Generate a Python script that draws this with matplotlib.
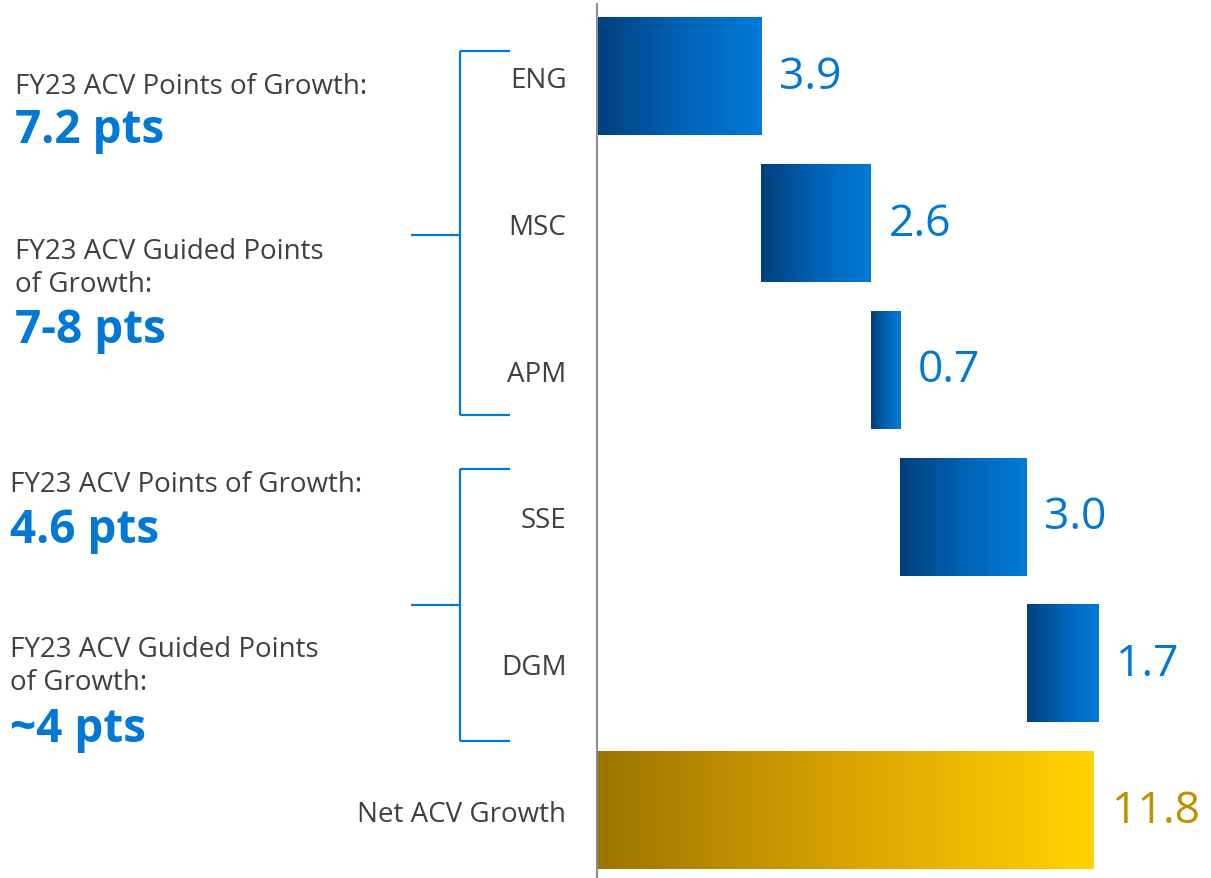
import numpy as np
import matplotlib
matplotlib.use('Agg')
import matplotlib.pyplot as plt
from matplotlib.colors import LinearSegmentedColormap
from matplotlib.lines import Line2D

plt.rcParams['font.family'] = ['Open Sans', 'DejaVu Sans']

# data
categories = ['ENG', 'MSC', 'APM', 'SSE', 'DGM', 'Net ACV Growth']
values = [3.9, 2.6, 0.7, 3.0, 1.7, 11.8]
is_total = [False, False, False, False, False, True]
value_labels = ['3.9', '2.6', '0.7', '3.0', '1.7', '11.8']

side_notes = [
    # (x px, y px, text, style)
    (15, 87, 'FY23 ACV Points of Growth:', 'small'),
    (15, 131, '7.2 pts', 'big'),
    (15, 252, 'FY23 ACV Guided Points', 'small'),
    (15, 285, 'of Growth:', 'small'),
    (15, 331, '7-8 pts', 'big'),
    (10, 485, 'FY23 ACV Points of Growth:', 'small'),
    (10, 530, '4.6 pts', 'big'),
    (10, 650, 'FY23 ACV Guided Points', 'small'),
    (10, 683, 'of Growth:', 'small'),
    (10, 730, '~4 pts', 'big'),
]

BLUE = '#0078D4'
GOLD = '#BF9000'
GRAY_TXT = '#404040'

W, H = 1211, 879
fig = plt.figure(figsize=(W / 100, H / 100), dpi=100)
fig.patch.set_facecolor('white')

def fx(x):
    return x / W

def fy(y):
    return 1 - y / H

# bar axes: left edge at the vertical gray line
ax = fig.add_axes([fx(597), 0, 1 - fx(597), 1 - 5 / H])
ax.patch.set_alpha(0)

blue_cmap = LinearSegmentedColormap.from_list('b', ['#003F7C', '#0062B4', '#007AD8'])
gold_cmap = LinearSegmentedColormap.from_list('g', ['#9C7400', '#D9A400', '#FFD300'])
grad = np.linspace(0, 1, 256).reshape(1, -1)

half_h = 0.4
running = 0.0
for i, (v, tot) in enumerate(zip(values, is_total)):
    left = 0.0 if tot else running
    right = left + v
    cmap = gold_cmap if tot else blue_cmap
    ax.imshow(grad, cmap=cmap, aspect='auto', interpolation='bilinear',
              extent=[left, right, i + half_h, i - half_h], zorder=2)
    ax.text(right + 0.42, i, value_labels[i], ha='left', va='center',
            fontsize=32, color=GOLD if tot else BLUE)
    if not tot:
        running = right

ax.set_xlim(0, 14.58)
ax.set_ylim(5.46, -0.494)
ax.set_yticks(range(len(categories)))
ax.set_yticklabels(categories, fontsize=20, color=GRAY_TXT)
ax.tick_params(axis='y', length=0, pad=22)
ax.set_xticks([])
for s in ['top', 'right', 'bottom']:
    ax.spines[s].set_visible(False)
ax.spines['left'].set_color('#8C8C8C')
ax.spines['left'].set_linewidth(1.5)

# left side notes
for x, y, txt, style in side_notes:
    if style == 'big':
        fig.text(fx(x), fy(y), txt, ha='left', va='center', fontsize=33,
                 fontweight='bold', color=BLUE)
    else:
        fig.text(fx(x), fy(y), txt, ha='left', va='center', fontsize=20,
                 color=GRAY_TXT)

# brackets
def bracket(top, bottom, mid):
    segs = [((460, top), (460, bottom)), ((460, top), (510, top)),
            ((460, bottom), (510, bottom)), ((411, mid), (460, mid))]
    for (x0, y0), (x1, y1) in segs:
        fig.add_artist(Line2D([fx(x0), fx(x1)], [fy(y0), fy(y1)],
                              color=BLUE, lw=1.6, solid_capstyle='butt'))

bracket(52, 416, 236)
bracket(470, 742, 606)

fig.savefig('out.png', dpi=100, facecolor='white')
